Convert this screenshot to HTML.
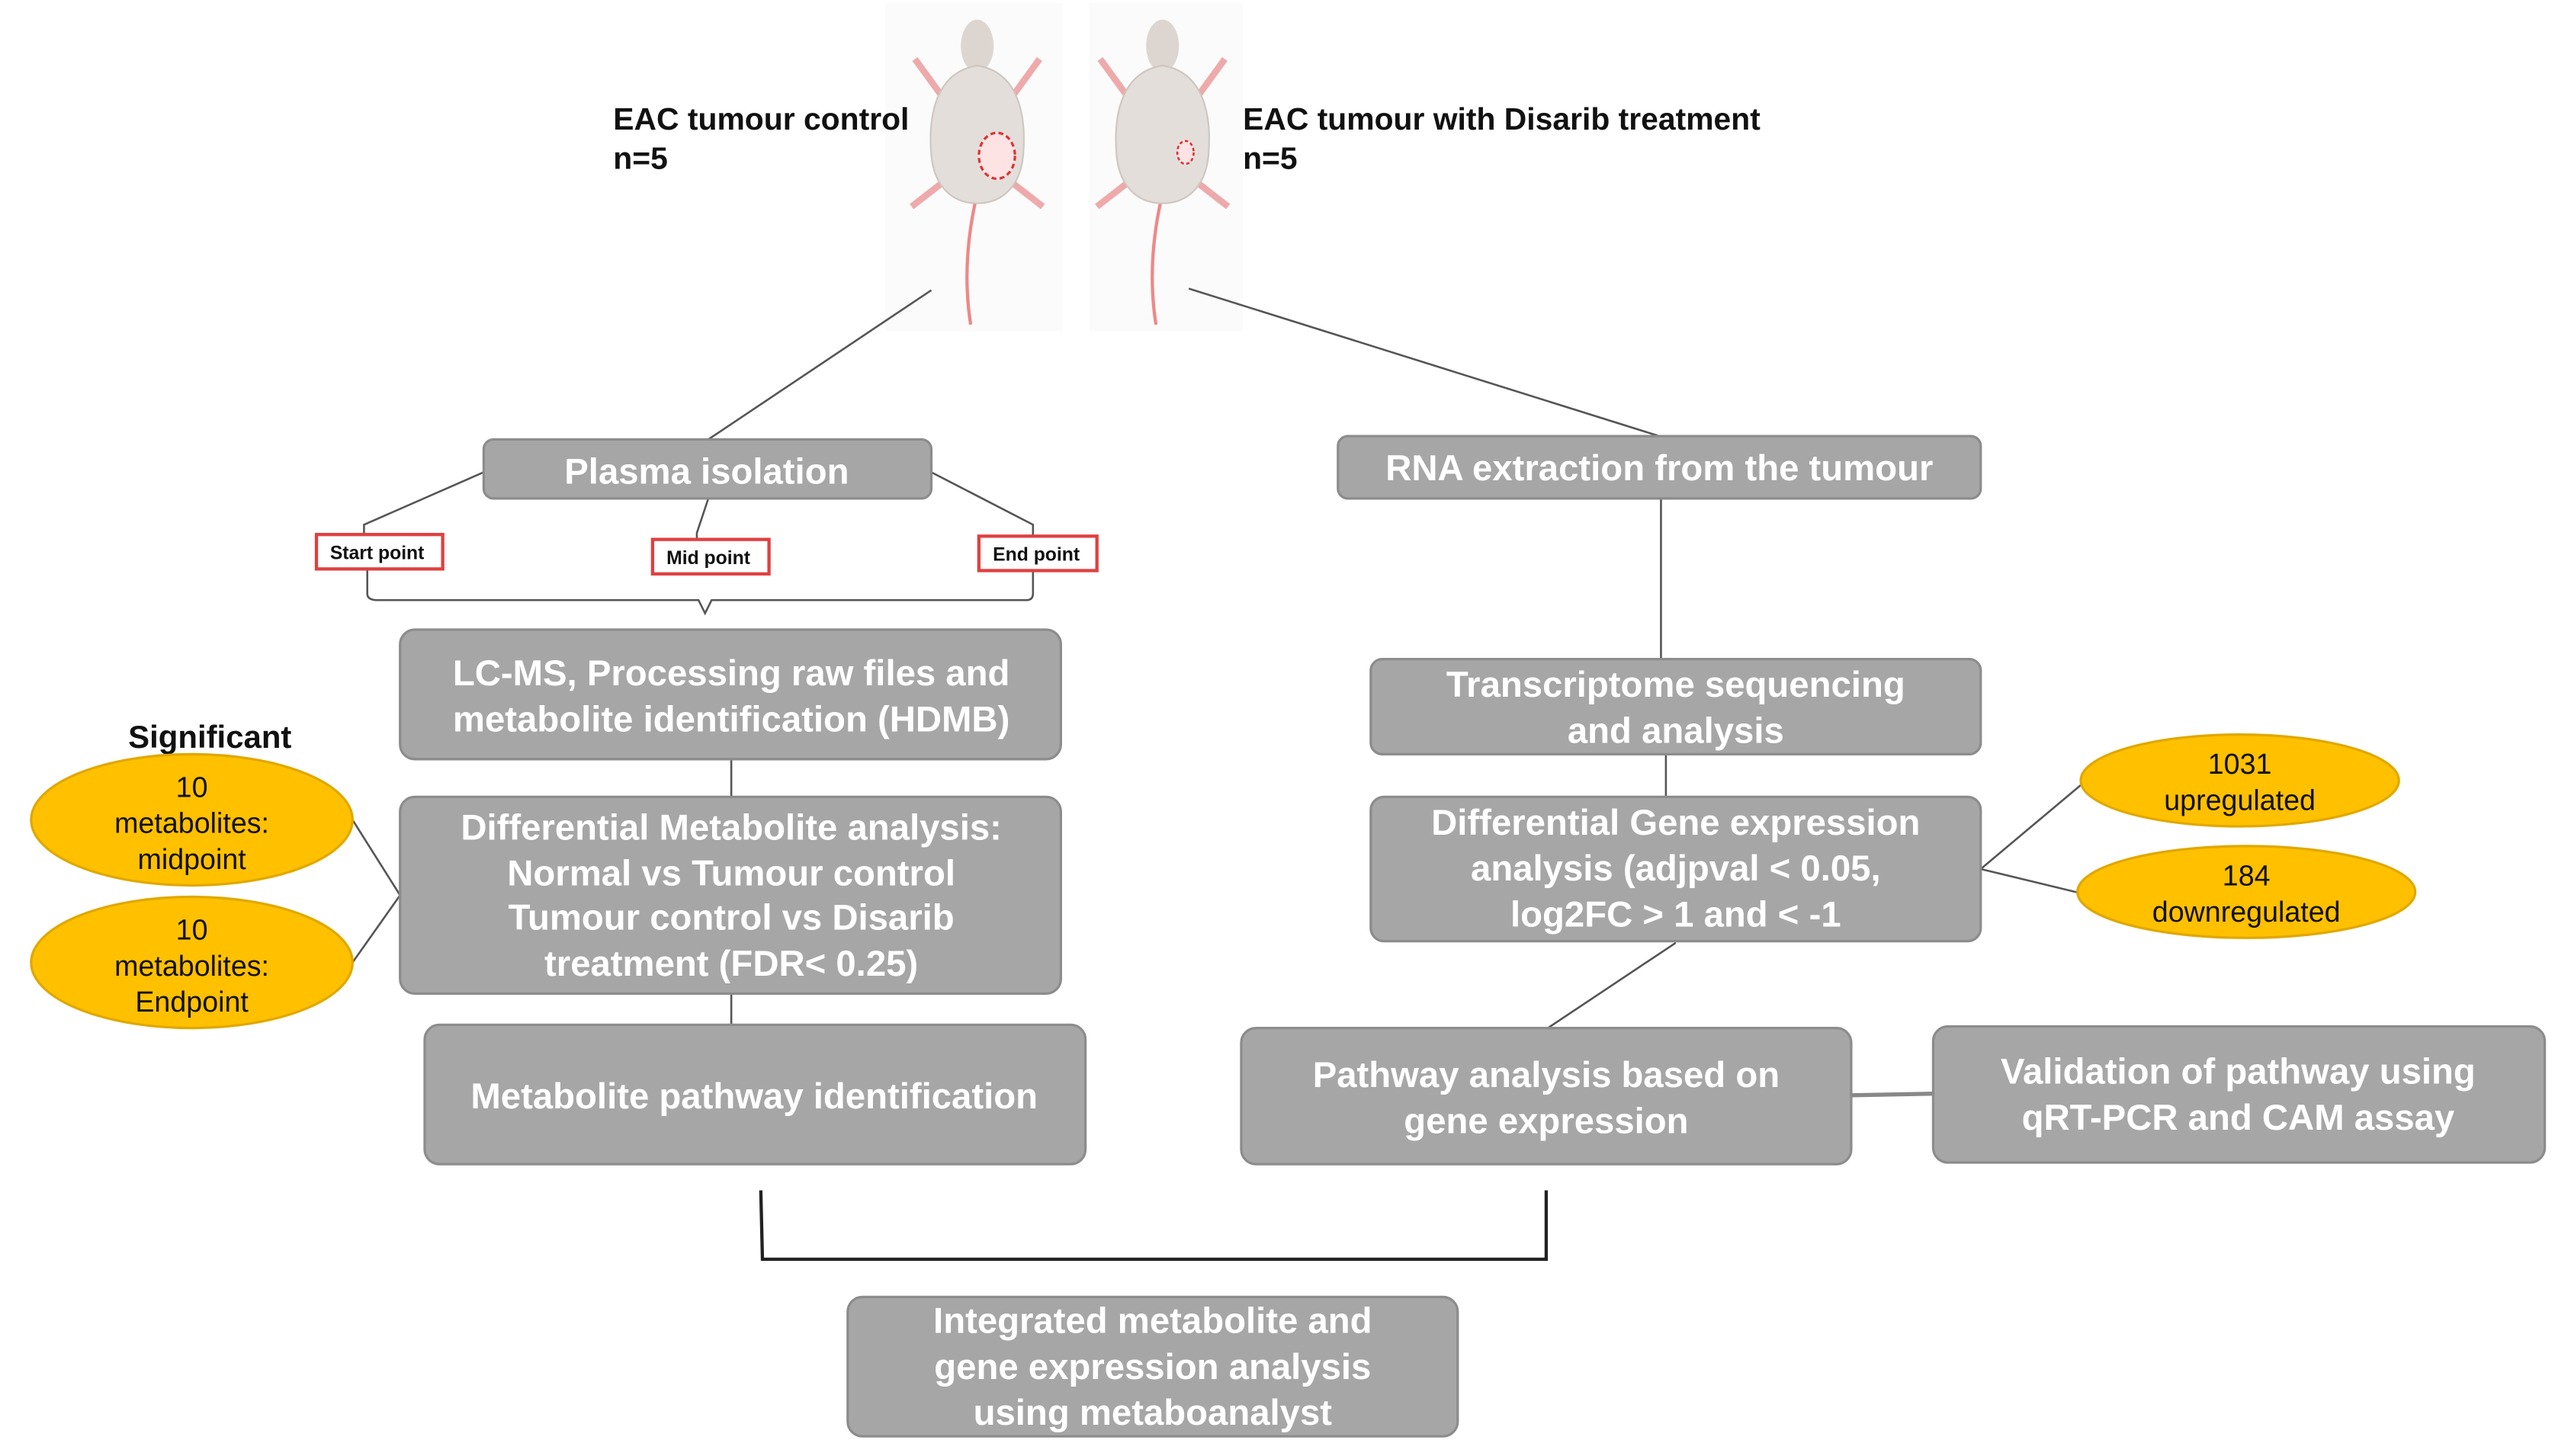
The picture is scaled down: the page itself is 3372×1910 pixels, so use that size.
<!DOCTYPE html>
<html><head><meta charset="utf-8"><style>
html,body{margin:0;padding:0;background:#fff;}
svg{display:block;}
.b{fill:#a6a6a6;stroke:#8c8c8c;stroke-width:1.5;}
.t{font-family:"Liberation Sans",Arial,sans-serif;font-weight:bold;fill:#fff;font-size:22px;text-anchor:middle;}
.k{font-family:"Liberation Sans",Arial,sans-serif;font-weight:bold;fill:#111;font-size:19px;}
.o{fill:#ffc000;stroke:#e0a800;stroke-width:1.5;}
.ot{font-family:"Liberation Sans",Arial,sans-serif;fill:#111;font-size:17.5px;text-anchor:middle;}
.l{stroke:#555;stroke-width:1.2;fill:none;}
.r{fill:#fff;stroke:#e04040;stroke-width:2;}
.rt{font-family:"Liberation Sans",Arial,sans-serif;font-weight:bold;fill:#111;font-size:11.5px;text-anchor:middle;}
</style></head><body>
<svg width="3372" height="1910" viewBox="0 0 1568 888" preserveAspectRatio="none" xmlns="http://www.w3.org/2000/svg">
<rect x="540" y="2" width="108" height="200" fill="#fbfbfb"/>
<rect x="664" y="2" width="94" height="200" fill="#fbfbfb"/>
<g>
<path d="M592 198 Q586 160 596 118" stroke="#e88" stroke-width="2" fill="none"/>
<path d="M558 36 L574 58 M634 36 L618 58 M556 126 L574 112 M636 126 L618 112" stroke="#eaa" stroke-width="4" fill="none"/>
<ellipse cx="596" cy="28" rx="10" ry="16" fill="#ddd6d0"/>
<path d="M596 40 C570 44 566 72 568 95 C570 115 582 124 596 124 C610 124 622 115 624 95 C626 72 622 44 596 40Z" fill="#e4deda" stroke="#cfc6c0"/>
</g>
<ellipse cx="608" cy="95" rx="11" ry="14" fill="#fde3e3" stroke="#d33" stroke-dasharray="3 2" stroke-width="1.5"/>
<g transform="translate(113,0)">
<path d="M592 198 Q586 160 596 118" stroke="#e88" stroke-width="2" fill="none"/>
<path d="M558 36 L574 58 M634 36 L618 58 M556 126 L574 112 M636 126 L618 112" stroke="#eaa" stroke-width="4" fill="none"/>
<ellipse cx="596" cy="28" rx="10" ry="16" fill="#ddd6d0"/>
<path d="M596 40 C570 44 566 72 568 95 C570 115 582 124 596 124 C610 124 622 115 624 95 C626 72 622 44 596 40Z" fill="#e4deda" stroke="#cfc6c0"/>
</g>
<ellipse cx="723" cy="93" rx="5" ry="7" fill="#fde3e3" stroke="#d33" stroke-dasharray="2 1.5" stroke-width="1.2"/>
<text class="k" x="374" y="79">EAC tumour control</text>
<text class="k" x="374" y="103">n=5</text>
<text class="k" x="758" y="79">EAC tumour with Disarib treatment</text>
<text class="k" x="758" y="103">n=5</text>

<path class="l" d="M568 177 L432 268 M725 176 L1012 266"/>
<path class="l" d="M295 288 L222 320 L222 327 M568 288 L630 320 L630 328 M432 304 L425 325 L425 330"/>
<path class="l" d="M224 347 L224 362 Q224 366 230 366 L426 366 L430 374 L434 366 L626 366 Q630 366 630 362 L630 348"/>
<path class="l" d="M446 463 L446 486 M446 606 L446 625 M1013 304 L1013 402 M1016 460 L1016 486 M1022 575 L944 627"/>
<path class="l" d="M215 500 L244 546 L215 587 M1208 530 L1270 478 M1208 530 L1270 545"/>
<path d="M1129 668 L1179 667" stroke="#888" stroke-width="2.5"/>
<path d="M464 726 L465 768 L943 768 L943 726" stroke="#222" stroke-width="2" fill="none"/>

<rect class="b" x="295" y="268" width="273" height="36" rx="6"/>
<text class="t" x="431" y="295">Plasma isolation</text>
<rect class="b" x="816" y="266" width="392" height="38" rx="6"/>
<text class="t" x="1012" y="293">RNA extraction from the tumour</text>

<rect class="r" x="193" y="326" width="77" height="21"/><text class="rt" x="230" y="341">Start point</text>
<rect class="r" x="398" y="329" width="71" height="21"/><text class="rt" x="432" y="344">Mid point</text>
<rect class="r" x="597" y="327" width="72" height="21"/><text class="rt" x="632" y="342">End point</text>

<rect class="b" x="244" y="384" width="403" height="79" rx="9"/>
<text class="t" x="446" y="418">LC-MS, Processing raw files and</text>
<text class="t" x="446" y="446">metabolite identification (HDMB)</text>

<rect class="b" x="244" y="486" width="403" height="120" rx="9"/>
<text class="t" x="446" y="512">Differential Metabolite analysis:</text>
<text class="t" x="446" y="540">Normal vs Tumour control</text>
<text class="t" x="446" y="567">Tumour control vs Disarib</text>
<text class="t" x="446" y="595">treatment (FDR&lt; 0.25)</text>

<rect class="b" x="259" y="625" width="403" height="85" rx="9"/>
<text class="t" x="460" y="676">Metabolite pathway identification</text>

<rect class="b" x="836" y="402" width="372" height="58" rx="7"/>
<text class="t" x="1022" y="425">Transcriptome sequencing</text>
<text class="t" x="1022" y="453">and analysis</text>

<rect class="b" x="836" y="486" width="372" height="88" rx="8"/>
<text class="t" x="1022" y="509">Differential Gene expression</text>
<text class="t" x="1022" y="537">analysis (adjpval &lt; 0.05,</text>
<text class="t" x="1022" y="565">log2FC &gt; 1 and &lt; -1</text>

<rect class="b" x="757" y="627" width="372" height="83" rx="9"/>
<text class="t" x="943" y="663">Pathway analysis based on</text>
<text class="t" x="943" y="691">gene expression</text>

<rect class="b" x="1179" y="626" width="373" height="83" rx="9"/>
<text class="t" x="1365" y="661">Validation of pathway using</text>
<text class="t" x="1365" y="689">qRT-PCR and CAM assay</text>

<rect class="b" x="517" y="791" width="372" height="85" rx="9"/>
<text class="t" x="703" y="813">Integrated metabolite and</text>
<text class="t" x="703" y="841">gene expression analysis</text>
<text class="t" x="703" y="869">using metaboanalyst</text>

<text class="k" x="128" y="456" text-anchor="middle" style="font-size:19.5px">Significant</text>
<ellipse class="o" cx="117" cy="500" rx="98" ry="40"/>
<text class="ot" x="117" y="486">10</text><text class="ot" x="117" y="508">metabolites:</text><text class="ot" x="117" y="530">midpoint</text>
<ellipse class="o" cx="117" cy="587" rx="98" ry="40"/>
<text class="ot" x="117" y="573">10</text><text class="ot" x="117" y="595">metabolites:</text><text class="ot" x="117" y="617">Endpoint</text>
<ellipse class="o" cx="1366" cy="476" rx="97" ry="28"/>
<text class="ot" x="1366" y="472">1031</text><text class="ot" x="1366" y="494">upregulated</text>
<ellipse class="o" cx="1370" cy="544" rx="103" ry="28"/>
<text class="ot" x="1370" y="540">184</text><text class="ot" x="1370" y="562">downregulated</text>
</svg>
</body></html>
